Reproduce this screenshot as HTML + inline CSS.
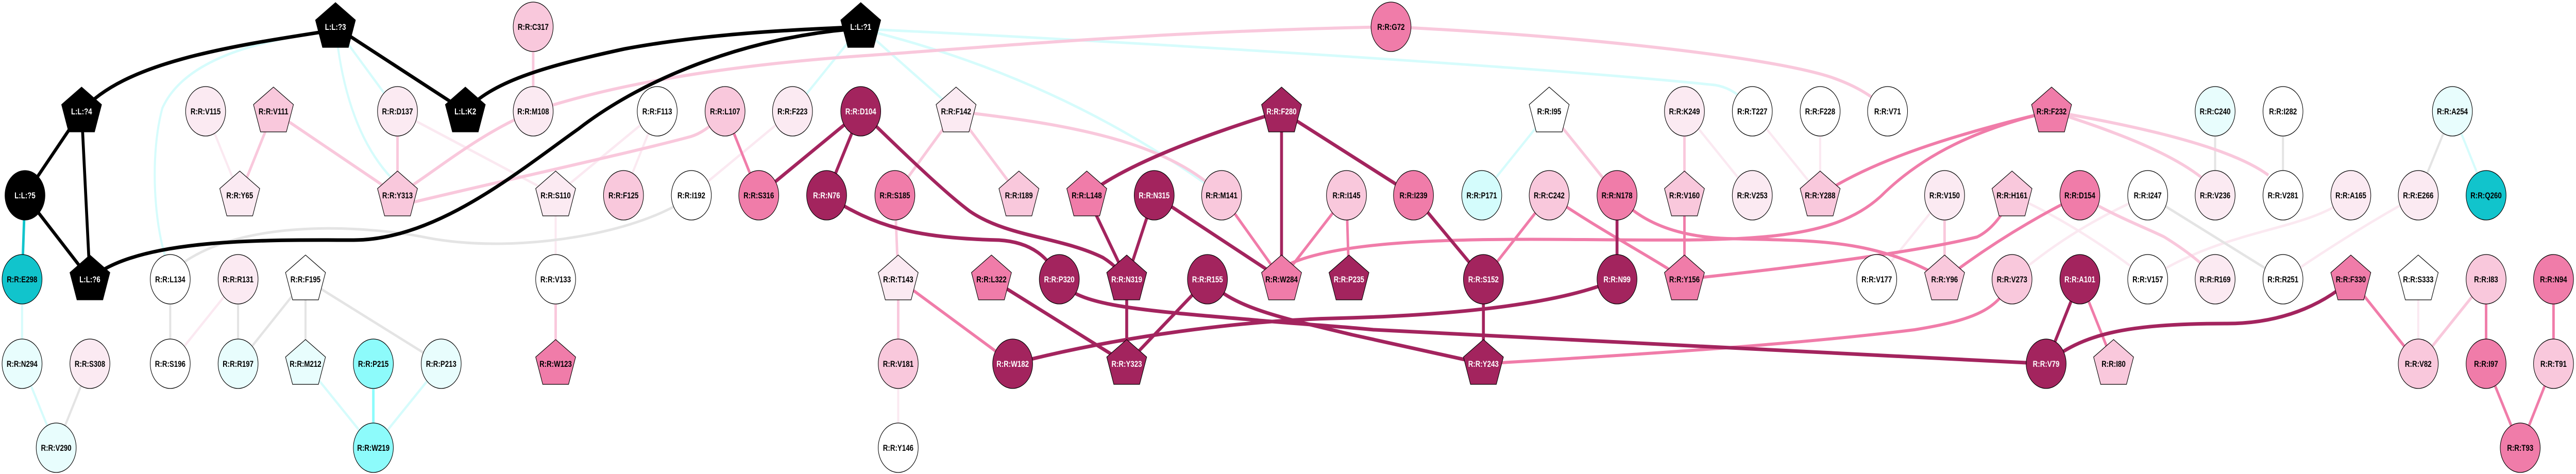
<!DOCTYPE html>
<html><head><meta charset="utf-8"><style>
html,body{margin:0;padding:0;background:#fff;width:100%;height:100%;overflow:hidden;}
svg{display:block;width:100vw;height:100vh;}
text{font-family:"Liberation Sans",Arial,sans-serif;font-weight:bold;font-size:16.5px;text-anchor:middle;}
</style></head><body>
<svg viewBox="0 0 6189 920" preserveAspectRatio="none" xmlns="http://www.w3.org/2000/svg">
<defs>
<polygon id="pg" points="0,-47 48,-13 31,40 -31,40 -48,-13" stroke="#000" stroke-width="1.3"/>
</defs>
<g fill="none" stroke-linecap="butt">
<g stroke="#fbe9f1" stroke-width="5">
<line x1="572" y1="542" x2="409" y2="706"/>
<line x1="494" y1="216" x2="576" y2="379"/>
<path d="M955,216 Q1150,300 1335,379"/>
<line x1="1579" y1="216" x2="1335" y2="379"/>
<line x1="1579" y1="216" x2="1498" y2="379"/>
<line x1="1904" y1="216" x2="1661" y2="379"/>
<line x1="1335" y1="379" x2="1335" y2="542"/>
<line x1="2158" y1="706" x2="2158" y2="869"/>
<line x1="4210" y1="216" x2="4373" y2="379"/>
<line x1="4373" y1="216" x2="4373" y2="379"/>
<line x1="4047" y1="216" x2="4210" y2="379"/>
<line x1="4672" y1="379" x2="4509" y2="542"/>
<path d="M4834,379 Q5000,440 5160,542"/>
<path d="M4834,542 Q4980,440 5160,379"/>
<path d="M5648,379 C5550,450 5350,440 5160,542"/>
<path d="M5810,379 Q5650,450 5485,542"/>
<line x1="5810" y1="542" x2="5810" y2="706"/>
</g>
<g stroke="#e4e4e4" stroke-width="5">
<line x1="216" y1="706" x2="135" y2="869"/>
<line x1="409" y1="542" x2="409" y2="706"/>
<line x1="572" y1="542" x2="572" y2="706"/>
<line x1="734" y1="542" x2="572" y2="706"/>
<line x1="734" y1="542" x2="734" y2="706"/>
<line x1="734" y1="542" x2="1060" y2="706"/>
<line x1="5322" y1="216" x2="5322" y2="379"/>
<line x1="5485" y1="216" x2="5485" y2="379"/>
<line x1="5892" y1="216" x2="5810" y2="379"/>
<path d="M5160,379 Q5320,460 5485,542"/>
<path d="M440,510 C600,420 900,440 1030,462 C1250,495 1550,450 1661,379"/>
</g>
<g stroke="#d6fcfc" stroke-width="5">
<line x1="53" y1="542" x2="53" y2="706"/>
<line x1="53" y1="706" x2="135" y2="869"/>
<path d="M806,58 C600,80 440,120 390,210 C360,300 370,430 398,500"/>
<line x1="806" y1="52" x2="955" y2="216"/>
<path d="M806,52 Q830,250 940,345"/>
<line x1="2068" y1="52" x2="1904" y2="216"/>
<line x1="2068" y1="52" x2="2297" y2="216"/>
<path d="M2068,56 Q2550,150 2935,379"/>
<path d="M2068,56 C2700,80 3700,130 4120,165 Q4160,170 4190,195"/>
<line x1="3722" y1="216" x2="3560" y2="379"/>
<line x1="5892" y1="216" x2="5973" y2="379"/>
<line x1="734" y1="706" x2="897" y2="869"/>
<line x1="1060" y1="706" x2="897" y2="869"/>
</g>
<line x1="897" y1="706" x2="897" y2="869" stroke="#8cfcfc" stroke-width="6"/>
<line x1="60" y1="379" x2="53" y2="542" stroke="#11c4cc" stroke-width="6"/>
<g stroke="#f9c8dc" stroke-width="6">
<line x1="657" y1="216" x2="576" y2="379"/>
<line x1="657" y1="216" x2="955" y2="379"/>
<line x1="955" y1="216" x2="955" y2="379"/>
<path d="M955,379 C1050,330 1150,260 1281,216"/>
<path d="M955,400 C1100,370 1500,300 1660,265 Q1700,255 1742,216"/>
<line x1="1281" y1="52" x2="1281" y2="216"/>
<path d="M1281,216 C1450,170 1700,130 2060,109 C2400,90 2800,60 3342,52"/>
<path d="M3342,52 C3800,70 4250,110 4400,150 Q4490,175 4535,216"/>
<path d="M2297,216 C2550,240 2800,270 2935,379"/>
<line x1="2297" y1="216" x2="2150" y2="379"/>
<line x1="2297" y1="216" x2="2448" y2="379"/>
<line x1="2150" y1="379" x2="2158" y2="542"/>
<line x1="2158" y1="542" x2="2158" y2="706"/>
<line x1="1335" y1="542" x2="1335" y2="706"/>
<line x1="3722" y1="216" x2="3885" y2="379"/>
<line x1="4047" y1="216" x2="4047" y2="379"/>
<line x1="4672" y1="379" x2="4672" y2="542"/>
<path d="M4929,216 C5100,240 5350,280 5450,340"/>
<path d="M4929,216 C5100,260 5220,300 5290,345"/>
<path d="M4997,379 C5080,420 5150,440 5200,460 Q5260,490 5300,520"/>
<line x1="5973" y1="542" x2="5810" y2="706"/>
</g>
<g stroke="#f07ca9" stroke-width="6">
<line x1="1742" y1="216" x2="1823" y2="379"/>
<line x1="2158" y1="542" x2="2433" y2="706"/>
<line x1="2935" y1="379" x2="3079" y2="542"/>
<line x1="3235" y1="379" x2="3079" y2="542"/>
<line x1="3235" y1="379" x2="3241" y2="542"/>
<line x1="3722" y1="379" x2="3564" y2="542"/>
<line x1="4047" y1="379" x2="4047" y2="542"/>
<path d="M3722,379 C3850,450 3950,490 4047,542"/>
<path d="M3079,520 C3200,465 3500,463 3800,465 C4200,468 4400,470 4520,380 C4620,300 4750,250 4929,216"/>
<path d="M3885,379 C3950,440 4050,460 4150,463 C4350,468 4500,460 4672,542"/>
<path d="M4047,542 C4300,520 4600,490 4750,460 Q4800,440 4834,379"/>
<path d="M4373,379 C4500,310 4700,260 4929,216"/>
<path d="M4997,379 Q4820,450 4672,542"/>
<path d="M3564,706 C3900,690 4300,670 4600,640 C4750,620 4800,600 4834,542"/>
<line x1="4997" y1="542" x2="5078" y2="706"/>
<line x1="5648" y1="542" x2="5810" y2="706"/>
<line x1="5973" y1="542" x2="5973" y2="706"/>
<line x1="6135" y1="542" x2="6135" y2="706"/>
<line x1="5973" y1="706" x2="6055" y2="869"/>
<line x1="6135" y1="706" x2="6055" y2="869"/>
</g>
<g stroke="#a3245e" stroke-width="7">
<line x1="1823" y1="379" x2="2068" y2="216"/>
<line x1="2068" y1="216" x2="1986" y2="379"/>
<path d="M1986,379 C2100,440 2200,462 2400,466 C2480,470 2520,500 2545,542"/>
<path d="M2068,216 C2200,320 2280,380 2330,410 C2420,460 2550,460 2650,500 Q2680,515 2707,542"/>
<path d="M3079,216 C2900,260 2700,320 2611,379"/>
<line x1="2611" y1="379" x2="2707" y2="542"/>
<line x1="2773" y1="379" x2="2707" y2="542"/>
<line x1="2773" y1="379" x2="3079" y2="542"/>
<line x1="3079" y1="216" x2="3079" y2="542"/>
<line x1="2707" y1="542" x2="2707" y2="706"/>
<line x1="2382" y1="542" x2="2707" y2="706"/>
<line x1="2901" y1="542" x2="2707" y2="706"/>
<path d="M2545,542 C2580,590 2700,600 3000,620 C3100,628 3200,632 3300,640 L4916,706"/>
<path d="M2433,706 C2700,650 3000,622 3200,618 C3500,612 3750,590 3885,542"/>
<path d="M2901,542 C2960,600 3100,620 3250,650 L3564,706"/>
<line x1="3079" y1="216" x2="3396" y2="379"/>
<line x1="3396" y1="379" x2="3564" y2="542"/>
<line x1="3564" y1="542" x2="3564" y2="706"/>
<line x1="3885" y1="379" x2="3885" y2="542"/>
<line x1="4997" y1="542" x2="4916" y2="706"/>
<path d="M4916,706 C5000,650 5100,628 5350,628 C5500,628 5600,580 5648,542"/>
</g>
<g stroke="#000" stroke-width="7">
<path d="M196,216 C300,120 550,90 806,58"/>
<line x1="806" y1="52" x2="1118" y2="216"/>
<line x1="196" y1="216" x2="60" y2="379"/>
<line x1="196" y1="216" x2="216" y2="542"/>
<line x1="60" y1="379" x2="216" y2="542"/>
<path d="M216,542 C330,460 650,466 850,466 C1050,466 1250,330 1390,250 C1550,150 1800,70 2068,55"/>
<path d="M1118,216 C1180,160 1300,130 1500,95 C1700,65 1900,58 2068,52"/>
</g>
</g>
<g stroke="#000" stroke-width="1.3">
<use href="#pg" x="806" y="52" fill="#000"/>
<use href="#pg" x="196" y="216" fill="#000"/>
<circle cx="60" cy="379" r="48" fill="#000"/>
<use href="#pg" x="216" y="542" fill="#000"/>
<use href="#pg" x="1118" y="216" fill="#000"/>
<use href="#pg" x="2068" y="52" fill="#000"/>
<circle cx="53" cy="542" r="48" fill="#11c4cc"/>
<circle cx="5973" cy="379" r="48" fill="#11c4cc"/>
<circle cx="897" cy="706" r="48" fill="#8dfbfb"/>
<circle cx="897" cy="869" r="48" fill="#8dfbfb"/>
<circle cx="3560" cy="379" r="48" fill="#d4fcfc"/>
<circle cx="53" cy="706" r="48" fill="#e8fdfd"/>
<circle cx="135" cy="869" r="48" fill="#e8fdfd"/>
<circle cx="572" cy="706" r="48" fill="#e8fdfd"/>
<use href="#pg" x="734" y="706" fill="#e8fdfd"/>
<circle cx="1060" cy="706" r="48" fill="#e8fdfd"/>
<circle cx="5322" cy="216" r="48" fill="#e8fdfd"/>
<circle cx="5892" cy="216" r="48" fill="#e8fdfd"/>
<circle cx="409" cy="542" r="48" fill="#fff"/>
<circle cx="409" cy="706" r="48" fill="#fff"/>
<use href="#pg" x="734" y="542" fill="#fff"/>
<circle cx="1579" cy="216" r="48" fill="#fff"/>
<circle cx="1661" cy="379" r="48" fill="#fff"/>
<circle cx="1335" cy="542" r="48" fill="#fff"/>
<circle cx="2158" cy="869" r="48" fill="#fff"/>
<use href="#pg" x="3722" y="216" fill="#fff"/>
<circle cx="4210" cy="216" r="48" fill="#fff"/>
<circle cx="4373" cy="216" r="48" fill="#fff"/>
<circle cx="4535" cy="216" r="48" fill="#fff"/>
<circle cx="4509" cy="542" r="48" fill="#fff"/>
<circle cx="5160" cy="379" r="48" fill="#fff"/>
<circle cx="5160" cy="542" r="48" fill="#fff"/>
<circle cx="5485" cy="216" r="48" fill="#fff"/>
<circle cx="5485" cy="379" r="48" fill="#fff"/>
<circle cx="5485" cy="542" r="48" fill="#fff"/>
<use href="#pg" x="5810" y="542" fill="#fff"/>
<circle cx="216" cy="706" r="48" fill="#fbeaf2"/>
<circle cx="494" cy="216" r="48" fill="#fbeaf2"/>
<use href="#pg" x="576" y="379" fill="#fbeaf2"/>
<circle cx="955" cy="216" r="48" fill="#fbeaf2"/>
<circle cx="572" cy="542" r="48" fill="#fbeaf2"/>
<circle cx="1281" cy="216" r="48" fill="#fbeaf2"/>
<circle cx="1904" cy="216" r="48" fill="#fbeaf2"/>
<use href="#pg" x="1335" y="379" fill="#fbeaf2"/>
<use href="#pg" x="2297" y="216" fill="#fbeaf2"/>
<use href="#pg" x="2158" y="542" fill="#fbeaf2"/>
<circle cx="4047" cy="216" r="48" fill="#fbeaf2"/>
<circle cx="4210" cy="379" r="48" fill="#fbeaf2"/>
<circle cx="4672" cy="379" r="48" fill="#fbeaf2"/>
<circle cx="5322" cy="379" r="48" fill="#fbeaf2"/>
<circle cx="5648" cy="379" r="48" fill="#fbeaf2"/>
<circle cx="5810" cy="379" r="48" fill="#fbeaf2"/>
<circle cx="5322" cy="542" r="48" fill="#fbeaf2"/>
<use href="#pg" x="657" y="216" fill="#f9c8dc"/>
<use href="#pg" x="955" y="379" fill="#f9c8dc"/>
<circle cx="1281" cy="52" r="48" fill="#f9c8dc"/>
<circle cx="1742" cy="216" r="48" fill="#f9c8dc"/>
<circle cx="1498" cy="379" r="48" fill="#f9c8dc"/>
<use href="#pg" x="2448" y="379" fill="#f9c8dc"/>
<circle cx="2935" cy="379" r="48" fill="#f9c8dc"/>
<circle cx="2158" cy="706" r="48" fill="#f9c8dc"/>
<circle cx="3235" cy="379" r="48" fill="#f9c8dc"/>
<circle cx="3722" cy="379" r="48" fill="#f9c8dc"/>
<use href="#pg" x="4047" y="379" fill="#f9c8dc"/>
<use href="#pg" x="4373" y="379" fill="#f9c8dc"/>
<use href="#pg" x="4834" y="379" fill="#f9c8dc"/>
<use href="#pg" x="4672" y="542" fill="#f9c8dc"/>
<circle cx="4834" cy="542" r="48" fill="#f9c8dc"/>
<use href="#pg" x="5078" y="706" fill="#f9c8dc"/>
<circle cx="5973" cy="542" r="48" fill="#f9c8dc"/>
<circle cx="5810" cy="706" r="48" fill="#f9c8dc"/>
<circle cx="6135" cy="706" r="48" fill="#f9c8dc"/>
<circle cx="1823" cy="379" r="48" fill="#f07ca9"/>
<use href="#pg" x="1335" y="706" fill="#f07ca9"/>
<circle cx="2150" cy="379" r="48" fill="#f07ca9"/>
<use href="#pg" x="2611" y="379" fill="#f07ca9"/>
<use href="#pg" x="2382" y="542" fill="#f07ca9"/>
<use href="#pg" x="3079" y="542" fill="#f07ca9"/>
<circle cx="3342" cy="52" r="48" fill="#f07ca9"/>
<circle cx="3396" cy="379" r="48" fill="#f07ca9"/>
<circle cx="3885" cy="379" r="48" fill="#f07ca9"/>
<use href="#pg" x="4047" y="542" fill="#f07ca9"/>
<use href="#pg" x="4929" y="216" fill="#f07ca9"/>
<circle cx="4997" cy="379" r="48" fill="#f07ca9"/>
<use href="#pg" x="5648" y="542" fill="#f07ca9"/>
<circle cx="6135" cy="542" r="48" fill="#f07ca9"/>
<circle cx="5973" cy="706" r="48" fill="#f07ca9"/>
<circle cx="6055" cy="869" r="48" fill="#f07ca9"/>
<circle cx="2068" cy="216" r="48" fill="#a3245e"/>
<circle cx="1986" cy="379" r="48" fill="#a3245e"/>
<circle cx="2773" cy="379" r="48" fill="#a3245e"/>
<use href="#pg" x="3079" y="216" fill="#a3245e"/>
<circle cx="2545" cy="542" r="48" fill="#a3245e"/>
<use href="#pg" x="2707" y="542" fill="#a3245e"/>
<circle cx="2901" cy="542" r="48" fill="#a3245e"/>
<circle cx="2433" cy="706" r="48" fill="#a3245e"/>
<use href="#pg" x="2707" y="706" fill="#a3245e"/>
<use href="#pg" x="3241" y="542" fill="#a3245e"/>
<circle cx="3564" cy="542" r="48" fill="#a3245e"/>
<circle cx="3885" cy="542" r="48" fill="#a3245e"/>
<use href="#pg" x="3564" y="706" fill="#a3245e"/>
<circle cx="4997" cy="542" r="48" fill="#a3245e"/>
<circle cx="4916" cy="706" r="48" fill="#a3245e"/>
</g>
<g fill="#fff">
<text x="806" y="58">L:L:?3</text>
<text x="196" y="222">L:L:?4</text>
<text x="60" y="385">L:L:?5</text>
<text x="216" y="548">L:L:?6</text>
<text x="1118" y="222">L:L:K2</text>
<text x="2068" y="58">L:L:?1</text>
<text x="2068" y="222">R:R:D104</text>
<text x="1986" y="385">R:R:N76</text>
<text x="2773" y="385">R:R:N315</text>
<text x="3079" y="222">R:R:F280</text>
<text x="2545" y="548">R:R:P320</text>
<text x="2707" y="548">R:R:N319</text>
<text x="2901" y="548">R:R:R155</text>
<text x="2433" y="712">R:R:W182</text>
<text x="2707" y="712">R:R:Y323</text>
<text x="3241" y="548">R:R:P235</text>
<text x="3564" y="548">R:R:S152</text>
<text x="3885" y="548">R:R:N99</text>
<text x="3564" y="712">R:R:Y243</text>
<text x="4997" y="548">R:R:A101</text>
<text x="4916" y="712">R:R:V79</text>
</g>
<g fill="#000">
<text x="53" y="548">R:R:E298</text>
<text x="5973" y="385">R:R:Q260</text>
<text x="897" y="712">R:R:P215</text>
<text x="897" y="875">R:R:W219</text>
<text x="3560" y="385">R:R:P171</text>
<text x="53" y="712">R:R:N294</text>
<text x="135" y="875">R:R:V290</text>
<text x="572" y="712">R:R:R197</text>
<text x="734" y="712">R:R:M212</text>
<text x="1060" y="712">R:R:P213</text>
<text x="5322" y="222">R:R:C240</text>
<text x="5892" y="222">R:R:A254</text>
<text x="409" y="548">R:R:L134</text>
<text x="409" y="712">R:R:S196</text>
<text x="734" y="548">R:R:F195</text>
<text x="1579" y="222">R:R:F113</text>
<text x="1661" y="385">R:R:I192</text>
<text x="1335" y="548">R:R:V133</text>
<text x="2158" y="875">R:R:Y146</text>
<text x="3722" y="222">R:R:I95</text>
<text x="4210" y="222">R:R:T227</text>
<text x="4373" y="222">R:R:F228</text>
<text x="4535" y="222">R:R:V71</text>
<text x="4509" y="548">R:R:V177</text>
<text x="5160" y="385">R:R:I247</text>
<text x="5160" y="548">R:R:V157</text>
<text x="5485" y="222">R:R:I282</text>
<text x="5485" y="385">R:R:V281</text>
<text x="5485" y="548">R:R:R251</text>
<text x="5810" y="548">R:R:S333</text>
<text x="216" y="712">R:R:S308</text>
<text x="494" y="222">R:R:V115</text>
<text x="576" y="385">R:R:Y65</text>
<text x="955" y="222">R:R:D137</text>
<text x="572" y="548">R:R:R131</text>
<text x="1281" y="222">R:R:M108</text>
<text x="1904" y="222">R:R:F223</text>
<text x="1335" y="385">R:R:S110</text>
<text x="2297" y="222">R:R:F142</text>
<text x="2158" y="548">R:R:T143</text>
<text x="4047" y="222">R:R:K249</text>
<text x="4210" y="385">R:R:V253</text>
<text x="4672" y="385">R:R:V150</text>
<text x="5322" y="385">R:R:V236</text>
<text x="5648" y="385">R:R:A165</text>
<text x="5810" y="385">R:R:E266</text>
<text x="5322" y="548">R:R:R169</text>
<text x="657" y="222">R:R:V111</text>
<text x="955" y="385">R:R:Y313</text>
<text x="1281" y="58">R:R:C317</text>
<text x="1742" y="222">R:R:L107</text>
<text x="1498" y="385">R:R:F125</text>
<text x="2448" y="385">R:R:I189</text>
<text x="2935" y="385">R:R:M141</text>
<text x="2158" y="712">R:R:V181</text>
<text x="3235" y="385">R:R:I145</text>
<text x="3722" y="385">R:R:C242</text>
<text x="4047" y="385">R:R:V160</text>
<text x="4373" y="385">R:R:Y288</text>
<text x="4834" y="385">R:R:H161</text>
<text x="4672" y="548">R:R:Y96</text>
<text x="4834" y="548">R:R:V273</text>
<text x="5078" y="712">R:R:I80</text>
<text x="5973" y="548">R:R:I83</text>
<text x="5810" y="712">R:R:V82</text>
<text x="6135" y="712">R:R:T91</text>
<text x="1823" y="385">R:R:S316</text>
<text x="1335" y="712">R:R:W123</text>
<text x="2150" y="385">R:R:S185</text>
<text x="2611" y="385">R:R:L148</text>
<text x="2382" y="548">R:R:L322</text>
<text x="3079" y="548">R:R:W284</text>
<text x="3342" y="58">R:R:G72</text>
<text x="3396" y="385">R:R:I239</text>
<text x="3885" y="385">R:R:N178</text>
<text x="4047" y="548">R:R:Y156</text>
<text x="4929" y="222">R:R:F232</text>
<text x="4997" y="385">R:R:D154</text>
<text x="5648" y="548">R:R:F330</text>
<text x="6135" y="548">R:R:N94</text>
<text x="5973" y="712">R:R:I97</text>
<text x="6055" y="875">R:R:T93</text>
</g>
</svg>
</body></html>
